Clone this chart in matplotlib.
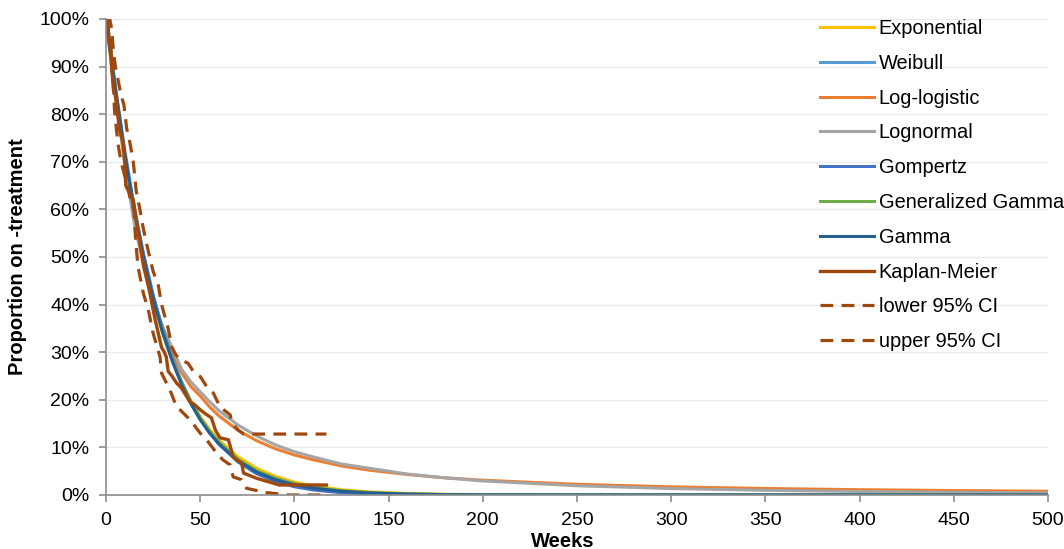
import matplotlib
matplotlib.use("Agg")
import matplotlib.pyplot as plt
from matplotlib.ticker import PercentFormatter

plt.rcParams['font.family'] = ['Liberation Sans', 'DejaVu Sans']

weeks = [0, 2, 5, 10, 15, 20, 25, 30, 35, 40, 45, 50, 55, 60, 70, 80, 90, 100,
         110, 125, 140, 160, 180, 200, 250, 300, 350, 400, 450, 500]

exponential = [100, 93.1, 83.5, 69.8, 58.3, 48.7, 40.7, 34.0, 28.4, 23.7, 19.8, 16.5, 13.8, 11.5,
               8.05, 5.6, 3.9, 2.7, 1.9, 1.1, 0.65, 0.32, 0.15, 0.07, 0.01, 0, 0, 0, 0, 0]
weibull = [100, 94.5, 85.8, 72.4, 60.6, 50.5, 42.0, 34.7, 28.7, 23.6, 19.4, 16.0, 13.1, 10.7,
           7.1, 4.7, 3.1, 2.1, 1.35, 0.72, 0.38, 0.16, 0.07, 0.03, 0, 0, 0, 0, 0, 0]
loglogistic = [100, 95.0, 85.0, 71.0, 59.5, 49.5, 41.5, 35.3, 30.3, 25.8, 22.8, 20.8, 18.5, 16.6,
               13.6, 11.4, 9.7, 8.4, 7.4, 6.1, 5.2, 4.3, 3.6, 3.1, 2.24, 1.71, 1.36, 1.11, 0.93, 0.79]
lognormal = [100, 96.0, 85.5, 69.2, 57.1, 48.0, 40.9, 35.4, 31.0, 26.5, 23.8, 21.7, 19.6, 17.7,
             14.7, 12.4, 10.5, 9.1, 8.0, 6.5, 5.6, 4.4, 3.6, 2.95, 1.94, 1.35, 0.98, 0.73, 0.56, 0.44]
gompertz = [100, 93.6, 84.6, 71.4, 60.0, 50.3, 42.0, 34.9, 28.9, 23.9, 19.65, 16.1, 13.1, 10.7,
            6.96, 4.46, 2.8, 1.73, 1.05, 0.47, 0.2, 0.06, 0.02, 0, 0, 0, 0, 0, 0, 0]
gen_gamma = [100, 94.0, 85.0, 71.3, 59.5, 49.6, 41.3, 34.4, 28.6, 23.7, 19.6, 16.2, 13.4, 11.1,
             7.5, 5.1, 3.5, 2.4, 1.6, 0.9, 0.5, 0.22, 0.1, 0.05, 0, 0, 0, 0, 0, 0]
gamma = [100, 94.3, 85.4, 71.7, 59.8, 49.8, 41.3, 34.2, 28.3, 23.3, 19.2, 15.8, 13.0, 10.7,
         7.2, 4.8, 3.2, 2.15, 1.45, 0.78, 0.42, 0.18, 0.08, 0.03, 0, 0, 0, 0, 0, 0]

# Kaplan-Meier and its 95% CI
km_weeks = [0, 1, 1.5, 2.5, 3, 4, 5, 6.5, 7, 9, 10, 10.5, 13, 14.5, 16, 18, 20, 23, 26, 29.5,
            31, 32, 33, 35, 37.5, 40, 44.5, 47, 50, 53, 56, 58, 60.5, 65, 67.5, 70, 72, 73,
            80, 92, 117]
km = [100, 100, 96, 95, 90, 85, 84, 79, 77, 74, 70, 65, 63, 62, 58, 53, 48, 43, 37, 31,
      30, 29, 26, 25, 23.5, 22.5, 19.6, 19, 17.9, 17, 16.2, 13.7, 12, 11.6, 8, 7.2, 6.7, 4.6,
      3.5, 2.1, 2.1]

lower_weeks = [0, 0.5, 2, 3, 4, 4.5, 5.5, 6.5, 8, 10, 11.5, 13, 14.9, 15.5, 16.2, 17, 19.8,
               22.5, 25, 28.7, 29.5, 34, 37.5, 39.3, 44.6, 50, 53.4, 58.7, 62, 66, 67.5, 72,
               74.6, 85, 97, 117]
lower = [100, 97, 95, 90, 86, 81, 77, 73.5, 70, 67, 64.8, 62, 59.7, 55, 51.5, 48, 42.4,
         38.9, 34, 29, 25.6, 22, 18.5, 17.9, 15.8, 13, 11.6, 8.8, 7.4, 6.3, 3.8, 3.2,
         1.4, 0.5, 0, 0]

upper_weeks = [0, 2, 3, 4, 5, 6.5, 8, 9.5, 11, 12.7, 14.5, 16, 18, 19.8, 22, 25, 27.8, 29.5,
               33, 35, 37, 39.3, 43.5, 47, 50, 53.4, 55, 57, 58.7, 60.5, 66, 66.7, 70, 73, 117]
upper = [100, 100, 98, 93, 90, 87, 84, 82, 77, 74, 70, 64, 60, 56, 52, 47, 44, 40,
         35, 31, 29.5, 28.4, 27.7, 25.6, 24.9, 22.8, 22, 21.4, 20, 18.5, 16.8, 15.1, 13.7,
         12.8, 12.8]

fig = plt.figure(figsize=(10.64, 5.49), dpi=100)
ax = fig.add_axes([0.0996, 0.0984, 0.8854, 0.867])

lw = 2.2
ax.plot(weeks, exponential, color='#FFC000', lw=lw, label='Exponential')
ax.plot(weeks, weibull, color='#5B9BD5', lw=lw, label='Weibull')
ax.plot(weeks, loglogistic, color='#ED7D31', lw=lw, label='Log-logistic')
ax.plot(weeks, lognormal, color='#A5A5A5', lw=lw, label='Lognormal')
ax.plot(weeks, gompertz, color='#4472C4', lw=lw, label='Gompertz')
ax.plot(weeks, gen_gamma, color='#70AD47', lw=lw, label='Generalized Gamma')
ax.plot(weeks, gamma, color='#255E91', lw=lw, label='Gamma')
ax.plot(km_weeks, km, color='#9E480E', lw=2.4, label='Kaplan-Meier')
ax.plot(lower_weeks, lower, color='#9E480E', lw=2.3, ls=(0, (4, 2.6)), label='lower 95% CI')
ax.plot(upper_weeks, upper, color='#9E480E', lw=2.3, ls=(0, (4, 2.6)), label='upper 95% CI')

ax.set_xlim(0, 500)
ax.set_ylim(0, 100)
ax.set_xticks(range(0, 501, 50))
ax.set_yticks(range(0, 101, 10))
ax.yaxis.set_major_formatter(PercentFormatter(decimals=0))
ax.grid(axis='y', color='#EBEBEB', lw=1)
ax.set_axisbelow(True)
for s in ['top', 'right']:
    ax.spines[s].set_visible(False)
for s in ['left', 'bottom']:
    ax.spines[s].set_color('#8C8C8C')
    ax.spines[s].set_linewidth(1.2)
ax.tick_params(axis='both', colors='#8C8C8C', length=5, width=1.2,
               labelsize=14, labelcolor='black', pad=7)
ax.set_xlabel('Weeks', fontsize=14.5, fontweight='bold')
ax.set_ylabel('Proportion on -treatment', fontsize=14.5, fontweight='bold')
ax.xaxis.set_label_coords(0.485, -0.077)
ax.yaxis.set_label_coords(-0.084, 0.5)

leg = ax.legend(loc='upper left', bbox_to_anchor=(0.763, 0.98), bbox_transform=fig.transFigure,
                frameon=False, fontsize=14.4, handlelength=2.7, handletextpad=0.25,
                labelspacing=0.79, borderaxespad=0)

fig.savefig('out.png', dpi=100)
